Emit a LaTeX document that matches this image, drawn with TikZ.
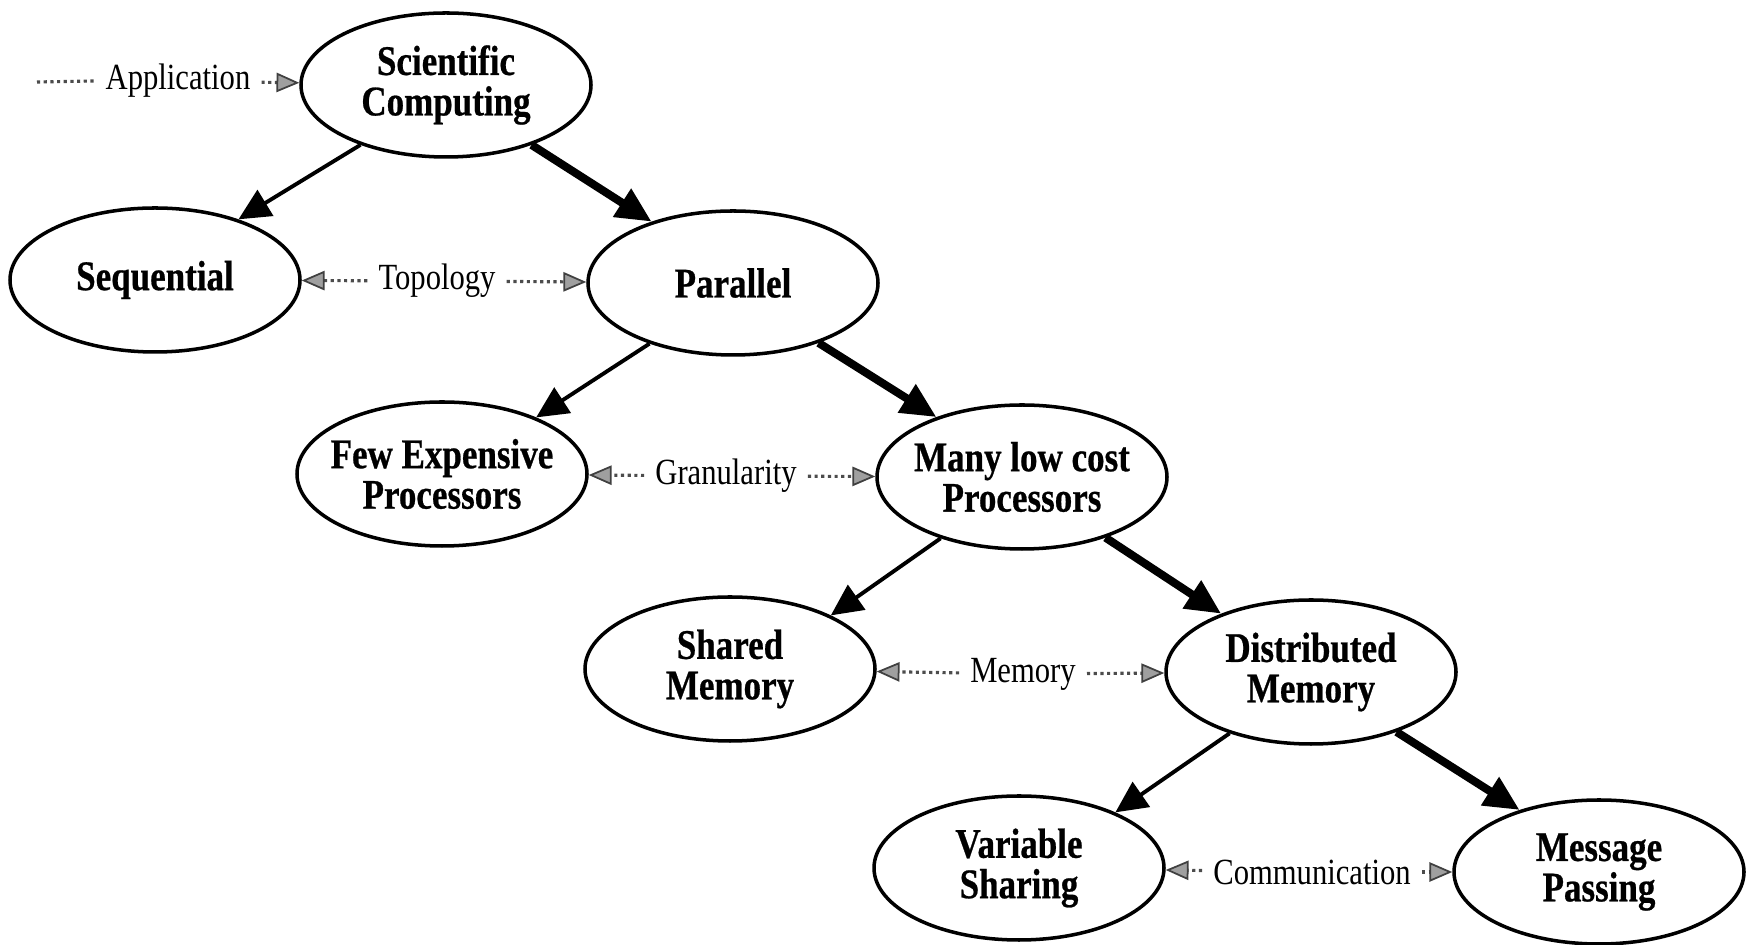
\documentclass[tikz,border=0pt]{standalone}
\usepackage{fontspec}
\setmainfont{Liberation Serif}[FakeStretch=0.83, BoldFeatures={FakeBold=0.6}]
\usepackage{tikz}
\usetikzlibrary{shapes.geometric, arrows.meta, positioning, calc}

\begin{document}
\begin{tikzpicture}[
  level/.style={ellipse, draw=black, line width=1pt, minimum width=2.9cm, minimum height=1.44cm,
    inner xsep=-6pt, inner ysep=0pt, align=center, font=\fontsize{12}{11.5}\selectfont\bfseries},
  axislabel/.style={inner sep=3pt, font=\fontsize{10.5}{12}\selectfont},
  thinarrow/.style={line width=1.1pt, -{Triangle[length=9pt, width=8.5pt]}},
  thickarrow/.style={line width=2.3pt, -{Triangle[length=10pt, width=9pt]}},
  linkline/.style={densely dotted, line width=0.9pt, draw=black!70},
  linkarrow/.style={linkline, -{Triangle[length=6.5pt, width=5.5pt, fill=gray!75, color=black!75, line width=0.5pt]}}
]
  \useasboundingbox (0,0) rectangle (17.52,-9.45);

  % decision levels
  \node[level] (sc) at (4.46, -0.85) {Scientific\\Computing};
  \node[level] (seq) at (1.55, -2.80) {Sequential};
  \node[level] (par) at (7.33, -2.83) {Parallel};
  \node[level] (few) at (4.42, -4.74) {Few Expensive\\Processors};
  \node[level] (many) at (10.22, -4.77) {Many low cost\\Processors};
  \node[level] (shm) at (7.30, -6.69) {Shared\\Memory};
  \node[level] (dsm) at (13.11, -6.72) {Distributed\\Memory};
  \node[level] (var) at (10.19, -8.68) {Variable\\Sharing};
  \node[level] (msg) at (15.99, -8.72) {Message\\Passing};

  % choice criteria
  \coordinate (appstart) at (0.37, -0.82);
  \node[axislabel] (lapp) at (1.78, -0.81) {Application};
  \node[axislabel] (ltopo) at (4.37, -2.81) {Topology};
  \node[axislabel] (lgran) at (7.26, -4.76) {Granularity};
  \node[axislabel] (lmem) at (10.23, -6.74) {Memory};
  \node[axislabel] (lcomm) at (13.12, -8.72) {Communication};

  % branches
  \draw[thinarrow] (sc.215) -- (seq.36);
  \draw[thickarrow] (sc.325) -- (par.143);
  \draw[thinarrow] (par.216) -- (few.31);
  \draw[thickarrow] (par.325) -- (many.145);
  \draw[thinarrow] (many.217) -- (shm.28);
  \draw[thickarrow] (many.324) -- (dsm.147);
  \draw[thinarrow] (dsm.217) -- (var.30);
  \draw[thickarrow] (dsm.325) -- (msg.142);

  % criteria links
  \draw[linkline] (appstart) -- (lapp.west);
  \draw[linkarrow] (lapp) -- (sc);
  \draw[linkarrow] (ltopo) -- (seq);
  \draw[linkarrow] (ltopo) -- (par);
  \draw[linkarrow] (lgran) -- (few);
  \draw[linkarrow] (lgran) -- (many);
  \draw[linkarrow] (lmem) -- (shm);
  \draw[linkarrow] (lmem) -- (dsm);
  \draw[linkarrow] (lcomm) -- (var);
  \draw[linkarrow] (lcomm) -- (msg);
\end{tikzpicture}
\end{document}
